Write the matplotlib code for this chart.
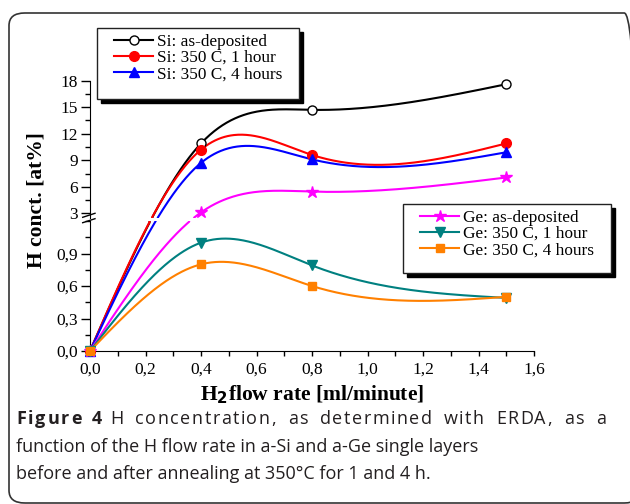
import numpy as np
import matplotlib
matplotlib.use("Agg")
import matplotlib.pyplot as plt
from matplotlib.lines import Line2D
from matplotlib.patches import Rectangle, FancyBboxPatch
from matplotlib.ticker import FuncFormatter, MultipleLocator

# data
flow = [0.0, 0.4, 0.8, 1.5]
si_dep = [0.0, 10.9, 14.7, 17.6]
si_1h = [0.0, 10.2, 9.6, 10.9]
si_4h = [0.0, 8.7, 9.1, 9.9]
ge_dep = [0.0, 3.1, 5.45, 7.05]
ge_1h = [0.0, 1.0, 0.79, 0.49]
ge_4h = [0.0, 0.80, 0.60, 0.50]

si_labels = ["Si: as-deposited", "Si: 350 C, 1 hour", "Si: 350 C, 4 hours"]
ge_labels = ["Ge: as-deposited", "Ge: 350 C, 1 hour", "Ge: 350 C, 4 hours"]

caption_bold = "Figure 4"
caption_lines = ["H concentration, as determined with ERDA, as a",
                 "function of the H flow rate in a-Si and a-Ge single layers",
                 "before and after annealing at 350\u00b0C for 1 and 4 h."]

W, H = 630, 504
SERIF = "Liberation Serif"

# broken axis: lower 0..1.2, upper 2.5..18 (pixel heights)
LOW_MAX, UP_MIN, UP_MAX = 1.2, 2.5, 18.0
LOW_PX, GAP_PX, UP_PX = 130.0, 3.3, 137.0


def fx(x):
    return x / W


def fy(y):
    return 1 - y / H


def to_px(v):
    v = np.asarray(v, dtype=float)
    return np.interp(v, [0, LOW_MAX, UP_MIN, UP_MAX],
                     [0, LOW_PX, LOW_PX + GAP_PX, LOW_PX + GAP_PX + UP_PX])


def from_px(p):
    return np.interp(p, [0, LOW_PX, LOW_PX + GAP_PX, LOW_PX + GAP_PX + UP_PX],
                     [0, LOW_MAX, UP_MIN, UP_MAX])


def natural_spline(x, y, xs):
    x = np.asarray(x, float)
    y = np.asarray(y, float)
    n = len(x)
    h = np.diff(x)
    A = np.zeros((n, n))
    b = np.zeros(n)
    A[0, 0] = A[-1, -1] = 1
    for i in range(1, n - 1):
        A[i, i - 1] = h[i - 1]
        A[i, i] = 2 * (h[i - 1] + h[i])
        A[i, i + 1] = h[i]
        b[i] = 3 * ((y[i + 1] - y[i]) / h[i] - (y[i] - y[i - 1]) / h[i - 1])
    c = np.linalg.solve(A, b)
    out = np.empty_like(xs)
    for k, xv in enumerate(xs):
        i = min(max(np.searchsorted(x, xv, side="right") - 1, 0), n - 2)
        dx = xv - x[i]
        bb = (y[i + 1] - y[i]) / h[i] - h[i] * (2 * c[i] + c[i + 1]) / 3
        d = (c[i + 1] - c[i]) / (3 * h[i])
        out[k] = y[i] + bb * dx + c[i] * dx ** 2 + d * dx ** 3
    return out


fig = plt.figure(figsize=(W / 100, H / 100), dpi=100)

ax_left, ax_right = 90, 534
low_bottom = 351
low_top = low_bottom - LOW_PX
up_bottom = low_top - GAP_PX

ax_low = fig.add_axes([fx(ax_left), fy(low_bottom), fx(ax_right - ax_left), LOW_PX / H])
ax_up = fig.add_axes([fx(ax_left), fy(up_bottom), fx(ax_right - ax_left), UP_PX / H])

series = [
    (si_dep, "black", "o", 6.5, "white"),
    (si_1h, "#ff0000", "o", 7, "#ff0000"),
    (si_4h, "#0000ff", "^", 7.5, "#0000ff"),
    (ge_dep, "#ff00ff", "*", 9, "#ff00ff"),
    (ge_1h, "#008080", "v", 7.5, "#008080"),
    (ge_4h, "#ff8000", "s", 6, "#ff8000"),
]

xs = np.linspace(0, 1.5, 400)
handles = []
for vals, col, mk, ms, fc in series:
    curve = from_px(natural_spline(flow, to_px(vals), xs))
    for ax in (ax_low, ax_up):
        ax.plot(xs, curve, color=col, lw=1.5, zorder=2)
    v = np.asarray(vals)
    f = np.asarray(flow)
    lo = v <= LOW_MAX
    ax_low.plot(f[lo], v[lo], ls="none", marker=mk, ms=ms, mfc=fc, mec=col,
                mew=1.0, clip_on=False, zorder=3)
    ax_up.plot(f[~lo], v[~lo], ls="none", marker=mk, ms=ms, mfc=fc, mec=col,
               mew=1.0, clip_on=False, zorder=3)
    handles.append(Line2D([], [], color=col, lw=1.5, marker=mk, ms=ms, mfc=fc,
                          mec=col, mew=1.0))

comma = FuncFormatter(lambda v, p: f"{v:.1f}".replace(".", ","))

for ax in (ax_low, ax_up):
    ax.set_xlim(0, 1.6)
    for s in ("top", "right"):
        ax.spines[s].set_visible(False)
    ax.tick_params(axis="y", which="major", direction="out", length=6.5,
                   width=1, labelsize=12.5, pad=2)
    ax.tick_params(axis="y", which="minor", direction="out", length=3.5, width=1)
    ax.tick_params(axis="x", which="both", direction="out", length=3.5,
                   width=1, labelsize=12.5, pad=4)

ax_low.set_ylim(0, LOW_MAX)
ax_low.set_yticks([0, 0.3, 0.6, 0.9])
ax_low.yaxis.set_minor_locator(MultipleLocator(0.15))
ax_low.yaxis.set_major_formatter(comma)
ax_low.set_xticks(np.arange(0, 1.61, 0.2))
ax_low.xaxis.set_minor_locator(MultipleLocator(0.1))
ax_low.xaxis.set_major_formatter(comma)

ax_up.set_ylim(UP_MIN, UP_MAX)
ax_up.set_yticks([3, 6, 9, 12, 15, 18])
ax_up.yaxis.set_minor_locator(MultipleLocator(1.5))
ax_up.spines["bottom"].set_visible(False)
ax_up.tick_params(axis="x", which="both", bottom=False, labelbottom=False)
ax_up.patch.set_alpha(0)

for ax in (ax_low, ax_up):
    for lab in ax.get_xticklabels() + ax.get_yticklabels():
        lab.set_fontfamily(SERIF)

# break marks on the y axis
for y0 in (217.3, 222.7):
    fig.add_artist(Line2D([fx(82.7), fx(95)], [fy(y0), fy(y0 - 4)],
                          color="black", lw=1.0))

# axis labels
fig.text(fx(312), fy(395), "H$_\\mathbf{2}$flow rate [ml/minute]", ha="center",
         va="center", fontsize=15.5, fontweight="bold", family=SERIF)
fig.text(fx(37), fy(200), "H conct. [at%]", ha="center", va="center",
         rotation=90, fontsize=15.5, fontweight="bold", family=SERIF)

# legends with black drop shadows
boxes = [((97, 28, 299, 99), (114, 34), handles[:3], si_labels),
         ((403, 204, 611, 273), (420, 210), handles[3:], ge_labels)]
for (x0, y0, x1, y1), (ax_, ay_), hs, labs in boxes:
    fig.add_artist(Rectangle((fx(x0 + 4), fy(y1 + 4)), fx(x1 - x0), (y1 - y0) / H,
                             transform=fig.transFigure, facecolor="black",
                             edgecolor="black", zorder=3))
    fig.add_artist(Rectangle((fx(x0), fy(y1)), fx(x1 - x0), (y1 - y0) / H,
                             transform=fig.transFigure, facecolor="white",
                             edgecolor="#222222", lw=1.0, zorder=4))
    leg = fig.legend(hs, labs, loc="upper left", bbox_to_anchor=(fx(ax_), fy(ay_)),
                     bbox_transform=fig.transFigure, frameon=False, borderpad=0,
                     borderaxespad=0, handlelength=2.27, handletextpad=0.23,
                     labelspacing=0.0, prop={"family": SERIF, "size": 12.4})
    leg.set_zorder(5)

# outer rounded frame
fig.add_artist(FancyBboxPatch((fx(9), fy(503)), fx(640 - 9), (503 - 13) / H,
                              boxstyle="round,pad=0,rounding_size=0.025",
                              transform=fig.transFigure, facecolor="none",
                              edgecolor="#333333", lw=1.2, zorder=0,
                              clip_on=False))

# caption
cap_font = "Open Sans"
cap_col = "#231f20"
cap_size = 13
base_y = [424, 452, 479]
renderer = fig.canvas.get_renderer()


def tracked(text, x0, x1, y, space_weight=4, **kw):
    # first caption line is justified: extra room goes to gaps, more to spaces
    def adv(s):
        t = fig.text(0, 0, s + "|", fontsize=cap_size, family=cap_font, **kw)
        w = t.get_window_extent(renderer).width
        t.remove()
        return w
    bar = adv("")
    offs = [adv(text[:i]) - bar for i in range(len(text))]
    weights = [space_weight if ch == " " else 1 for ch in text[:-1]]
    unit = (x1 - x0 - (adv(text) - bar)) / sum(weights)
    shift = 0.0
    for i, ch in enumerate(text):
        if ch != " ":
            fig.text(fx(x0 + offs[i] + shift), fy(y), ch, fontsize=cap_size,
                     family=cap_font, color=cap_col, va="baseline", **kw)
        if i < len(weights):
            shift += weights[i] * unit


tracked(caption_bold, 16, 102, base_y[0], space_weight=2, fontweight="bold")
tracked(caption_lines[0], 110, 606, base_y[0])

for line, y in zip(caption_lines[1:], base_y[1:]):
    fig.text(fx(16), fy(y), line, fontsize=cap_size, family=cap_font,
             color=cap_col, va="baseline")

fig.savefig("out.png", dpi=100)
